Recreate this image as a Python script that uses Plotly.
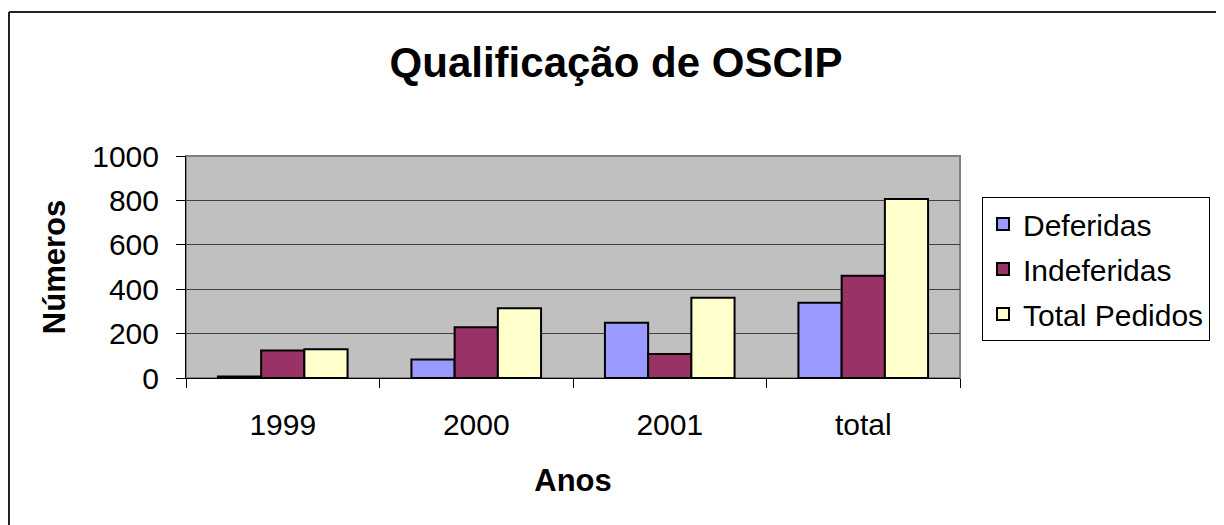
import plotly.graph_objects as go

categories = ["1999", "2000", "2001", "total"]
deferidas = [7, 83, 249, 339]
indeferidas = [124, 229, 108, 461]
total_pedidos = [130, 314, 362, 806]
series_names = ["Deferidas", "Indeferidas", "Total Pedidos"]
colors = ["#9999FF", "#993366", "#FFFFCC"]

# page body has an 8px margin; figure sized to fit the window
W, H = 1216, 517
L, R, T, B = 178, 264, 148, 147
pw, ph = W - L - R, H - T - B

fig = go.Figure()
for name, vals, col in zip(series_names, [deferidas, indeferidas, total_pedidos], colors):
    fig.add_trace(go.Bar(x=categories, y=vals, name=name, legendgroup=name,
                         marker=dict(color=col, line=dict(color="black", width=2))))

font = "Liberation Sans, Arial, sans-serif"
fig.update_layout(
    width=W, height=H, autosize=False,
    margin=dict(l=L, r=R, t=T, b=B),
    paper_bgcolor="white", plot_bgcolor="#C0C0C0",
    barmode="group", bargap=0.33, bargroupgap=0,
    font=dict(family=font, color="black", size=30),
    title=dict(text="<b>Qualificação de OSCIP</b>", x=0.5, xanchor="center",
               y=1 - 54 / H, yanchor="middle", font=dict(size=42, family=font)),
    legend=dict(x=(974 - L) / pw, y=(370 - 189) / ph, xanchor="left", yanchor="top",
                bordercolor="black", borderwidth=1, bgcolor="white",
                font=dict(size=30, family=font), itemwidth=30, tracegroupgap=3),
    xaxis=dict(showline=True, linecolor="black", linewidth=1, ticks="outside",
               tickson="boundaries", ticklen=9, tickcolor="black",
               ticklabelstandoff=20,
               title=dict(text="<b>Anos</b>", font=dict(size=31), standoff=29),
               tickfont=dict(size=30)),
    yaxis=dict(range=[0, 1000], dtick=200, showline=True, linecolor="black", linewidth=1,
               ticks="outside", ticklen=9, tickcolor="black", gridcolor="#404040",
               gridwidth=1, zeroline=False, ticklabelstandoff=11,
               title=dict(text="<b>Números</b>", font=dict(size=31), standoff=17),
               tickfont=dict(size=30)),
    shapes=[
        dict(type="rect", xref="paper", yref="paper", x0=0, x1=1, y0=0, y1=1,
             line=dict(color="#808080", width=2), layer="below"),
        # outer chart frame (left and top edges visible, rest outside window)
        dict(type="line", xref="paper", yref="paper",
             x0=-(L - 1) / pw, x1=-(L - 1) / pw, y0=1 + (T - 4) / ph, y1=-B / ph,
             line=dict(color="#222222", width=2)),
        dict(type="line", xref="paper", yref="paper",
             x0=-(L - 1) / pw, x1=1 + R / pw, y0=1 + (T - 4) / ph, y1=1 + (T - 4) / ph,
             line=dict(color="#222222", width=2)),
    ],
)
fig.write_html("out.html")
